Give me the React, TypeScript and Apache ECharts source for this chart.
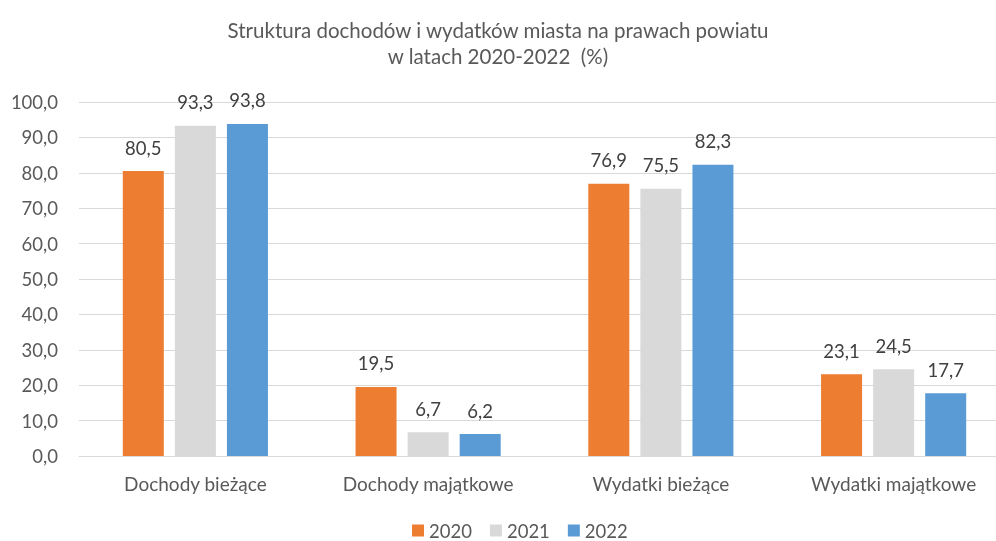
import React, { useEffect, useRef } from "react";
import * as echarts from "echarts";

const categories = ["Dochody bieżące", "Dochody majątkowe", "Wydatki bieżące", "Wydatki majątkowe"];
const years = ["2020", "2021", "2022"];
const values2020 = [80.5, 19.5, 76.9, 23.1];
const values2021 = [93.3, 6.7, 75.5, 24.5];
const values2022 = [93.8, 6.2, 82.3, 17.7];
const colors = ["#ED7D31", "#D9D9D9", "#5B9BD5"];

const FONT = "Lato, 'Open Sans', sans-serif";

export default function App() {
  const ref = useRef<HTMLDivElement>(null);
  useEffect(() => {
    if (!ref.current) return;
    const chart = echarts.init(ref.current, undefined, { renderer: "svg" });
    const seriesData = [values2020, values2021, values2022];
    chart.setOption({
      animation: false,
      textStyle: { fontFamily: FONT },
      title: {
        text: "Struktura dochodów i wydatków miasta na prawach powiatu\nw latach 2020-2022  (%)",
        left: "center",
        top: 12,
        textStyle: { fontFamily: FONT, fontSize: 20.5, fontWeight: "normal", color: "#595959", lineHeight: 26 },
      },
      legend: {
        top: 516,
        left: 407,
        itemWidth: 12,
        itemHeight: 12,
        itemGap: 18,
        icon: "rect",
        textStyle: { fontFamily: FONT, fontSize: 18.5, color: "#595959" },
        data: years,
      },
      grid: { left: 79, width: 931, top: 102, bottom: 85, outerBoundsMode: "none", containLabel: false },
      xAxis: {
        type: "category",
        data: categories,
        axisLine: { show: true, lineStyle: { color: "#D9D9D9", width: 1 } },
        axisTick: { show: false },
        axisLabel: { fontFamily: FONT, fontSize: 19, color: "#595959", margin: 18 },
      },
      yAxis: {
        type: "value",
        min: 0,
        max: 100,
        interval: 10,
        axisLine: { show: false },
        axisTick: { show: false },
        splitLine: { lineStyle: { color: "#D9D9D9", width: 1 } },
        axisLabel: {
          fontFamily: FONT,
          fontSize: 18.5,
          color: "#595959",
          margin: 21,
          formatter: (v: number) => v.toFixed(1).replace(".", ","),
        },
      },
      series: years.map((y, i) => ({
        name: y,
        type: "bar",
        data: seriesData[i],
        barWidth: 41,
        barGap: "27%",
        itemStyle: { color: colors[i] },
        label: {
          show: true,
          position: "top",
          distance: 14,
          fontFamily: FONT,
          fontSize: 18.5,
          color: "#404040",
          formatter: (p: any) => Number(p.value).toFixed(1).replace(".", ","),
        },
      })),
    });
    return () => chart.dispose();
  }, []);
  return <div ref={ref} style={{ position: "fixed", left: 0, top: 0, width: 996, height: 541 }} />;
}
